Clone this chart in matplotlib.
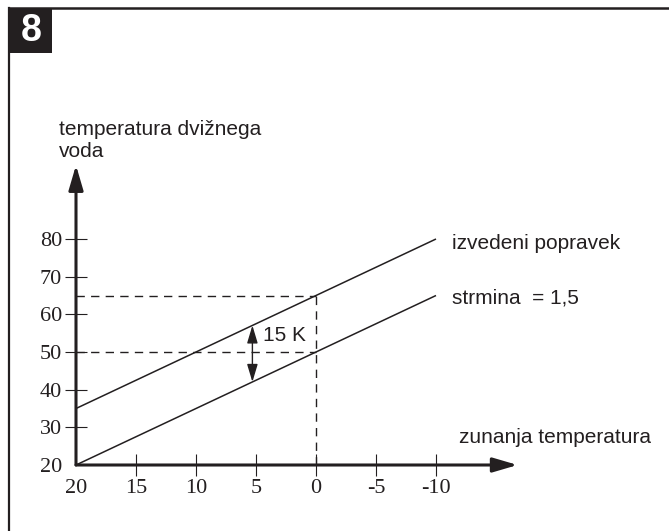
import numpy as np
import matplotlib.pyplot as plt
from matplotlib.patches import Rectangle
from matplotlib.lines import Line2D

# zunanja temperatura (°C) in temperatura dvižnega voda (°C)
zunanja = [20, 10, 0, -10]
strmina = [20, 35, 50, 65]
popravek = [35, 50, 65, 80]

x_ticks = [20, 15, 10, 5, 0, -5, -10]
x_labels = ['20', '15', '10', '5', '0', '-5', '-10']
y_ticks = [20, 30, 40, 50, 60, 70, 80]
y_labels = ['20', '30', '40', '50', '60', '70', '80']

odcitek_x = 0
odcitek_y = [50, 65]
razlika_x = 5.3

BARVA = '#231f20'
SANS = 'Liberation Sans'
SERIF = 'Liberation Serif'

W, H = 669, 531
x0_px, y0_px = 76, 465          # izhodišče osi v pikslih
px_x, px_y = 12.0, 226 / 60     # pikslov na stopinjo

fig = plt.figure(figsize=(W / 100, H / 100), dpi=100)
ax = fig.add_axes([0, 0, 1, 1])
ax.set_xlim(20 + x0_px / px_x, 20 - (W - x0_px) / px_x)
ax.set_ylim(20 - (H - y0_px) / px_y, 20 + y0_px / px_y)

for s in ax.spines.values():
    s.set_visible(False)
ax.spines['left'].set_position(('data', 20))
ax.spines['bottom'].set_position(('data', 20))

ax.set_xticks(x_ticks, x_labels, family=SERIF, fontsize=16, color=BARVA)
ax.set_yticks(y_ticks, y_labels, family=SERIF, fontsize=16, color=BARVA)
ax.tick_params(axis='both', direction='inout', length=16, width=0.8, color=BARVA)
ax.tick_params(axis='x', pad=2)
ax.tick_params(axis='y', pad=2)
ax.xaxis.get_major_ticks()[0].tick1line.set_visible(False)
ax.yaxis.get_major_ticks()[0].tick1line.set_visible(False)

# osi s puščicama
puscica = dict(arrowstyle='-|>,head_length=0.75,head_width=0.22', mutation_scale=20,
               lw=2.2, color=BARVA, shrinkA=0, shrinkB=0)
ax.annotate('', xy=(20, 99.6), xytext=(20, 20), arrowprops=puscica)
ax.annotate('', xy=(-16.8, 20), xytext=(20, 20), arrowprops=puscica)

# krivulji
ax.plot(zunanja, strmina, color=BARVA, lw=1.1, solid_capstyle='butt')
ax.plot(zunanja, popravek, color=BARVA, lw=1.1, solid_capstyle='butt')

# pomožne črte za odčitek
for y in odcitek_y:
    ax.plot([20, odcitek_x], [y, y], color=BARVA, lw=1.0, ls=(0, (6, 4.5)))
ax.plot([odcitek_x, odcitek_x], [20, max(odcitek_y)], color=BARVA, lw=1.0, ls=(0, (6, 4.5)))

# premik 15 K
y_sp = np.interp(razlika_x, zunanja[::-1], strmina[::-1])
y_zg = np.interp(razlika_x, zunanja[::-1], popravek[::-1])
ax.annotate('', xy=(razlika_x, y_zg), xytext=(razlika_x, y_sp),
            arrowprops=dict(arrowstyle='<|-|>,head_length=0.6,head_width=0.18',
                            mutation_scale=18, lw=1.0, color=BARVA,
                            shrinkA=0, shrinkB=0))
ax.text(razlika_x - 0.9, 54.5, '15 K', family=SANS, fontsize=15, color=BARVA,
        ha='left', va='center')

# napisi
ax.text(-11.33, 78.9, 'izvedeni popravek', family=SANS, fontsize=15, color=BARVA,
        ha='left', va='center')
ax.text(-11.33, 64.3, 'strmina  = 1,5', family=SANS, fontsize=15, color=BARVA,
        ha='left', va='center')
ax.text(-11.92, 27.4, 'zunanja temperatura', family=SANS, fontsize=15, color=BARVA,
        ha='left', va='center')
ax.text(21.42, 106.2, 'temperatura dvižnega\nvoda', family=SANS, fontsize=15,
        color=BARVA, ha='left', va='center', linespacing=1.2)

# okvir in oznaka slike
fig.add_artist(Line2D([9 / W, 1], [1 - 8 / H, 1 - 8 / H], color=BARVA, lw=1.8))
fig.add_artist(Line2D([9 / W, 9 / W], [0, 1 - 8 / H], color=BARVA, lw=1.6))
fig.add_artist(Rectangle((9 / W, 1 - 53 / H), 43 / W, 45 / H, color=BARVA, lw=0))
fig.text(31 / W, 1 - 31 / H, '8', family=SANS, fontweight='bold', fontsize=27,
         color='white', ha='center', va='center')

fig.savefig('out.png', dpi=100)
